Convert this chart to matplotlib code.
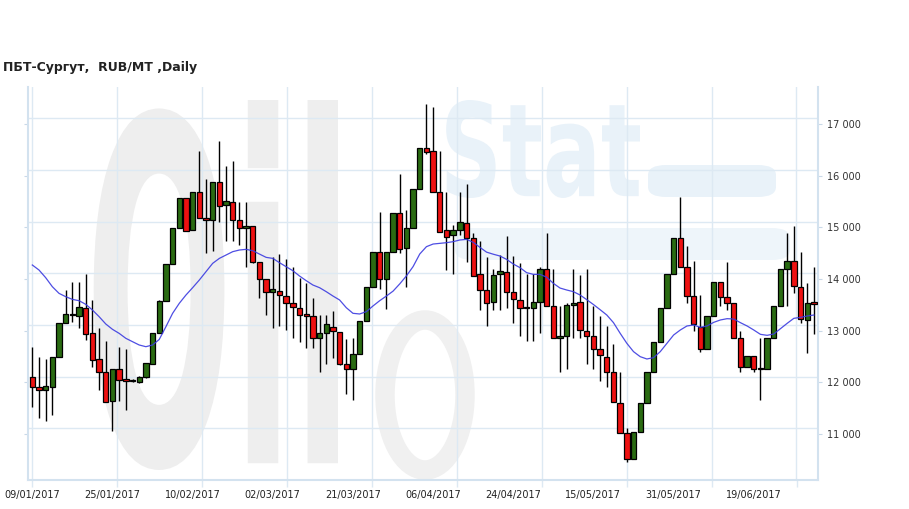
import numpy as np
import matplotlib.pyplot as plt
from matplotlib.patches import PathPatch, FancyBboxPatch, Ellipse
from matplotlib.textpath import TextPath
from matplotlib.font_manager import FontProperties
from matplotlib.path import Path

# -----------------------------
# Data, RUB/MT
# -----------------------------
opens = [11987, 11800, 11742, 11800, 12387, 13032, 13190, 13180, 13322, 12838,
         12335, 12083, 11535, 12148, 11948, 11942, 11890, 11987, 12245, 12838,
         13470, 14173, 14870, 15463, 14838, 15567, 15063, 15031, 15760, 15322,
         15373, 15031, 14870, 14922, 14225, 13883, 13631, 13664, 13568, 13432,
         13322, 13206, 13180, 12755, 12839, 12968, 12871, 12245, 12142, 12432,
         13084, 13729, 14419, 13884, 14419, 15174, 14484, 14870, 15625, 16419,
         16367, 15567, 14838, 14741, 14838, 14967, 14677, 13980, 13677, 13439,
         13980, 14019, 13632, 13484, 13342, 13322, 13439, 14077, 13374, 12742,
         12780, 13385, 13439, 12884, 12787, 12529, 12387, 12084, 11484, 10903,
         10400, 10935, 11484, 12084, 12677, 13322, 13980, 14677, 14129, 13568,
         12968, 12529, 13181, 13826, 13535, 13432, 12742, 12181, 12400, 12161,
         12142, 12742, 13374, 14077, 14238, 13729, 13097, 13439]
highs = [12580, 12387, 12342, 12387, 13032, 13677, 13825, 13825, 13980, 13483,
         12935, 12690, 12148, 12580, 12535, 11960, 12020, 12270, 12838, 13483,
         14173, 14870, 15463, 15463, 15567, 16367, 15818, 15760, 16560, 16076,
         16173, 15386, 15386, 14922, 14225, 13883, 14322, 14367, 14271, 14129,
         13903, 13819, 13529, 13193, 13193, 13277, 12871, 12729, 12742, 13084,
         13729, 14419, 15180, 14419, 15174, 15922, 15226, 15625, 16419, 17270,
         17225, 16367, 15580, 14935, 15580, 15722, 14774, 14626, 14322, 14077,
         14355, 14722, 14335, 14193, 13980, 13980, 14129, 14780, 14077, 13374,
         13432, 14077, 13975, 14077, 13370, 13170, 12987, 12632, 12084, 11000,
         10935, 11484, 12084, 12677, 13322, 13980, 14677, 15480, 14529, 14238,
         13581, 13181, 13826, 13826, 14226, 13432, 12884, 12400, 12400, 12742,
         12742, 13374, 14077, 14774, 14920, 14420, 13820, 14129]
lows = [11406, 11193, 11148, 11258, 12387, 13032, 13064, 12935, 12709, 12193,
        11742, 11500, 10955, 11535, 11354, 11900, 11870, 11980, 12245, 12838,
        13470, 14173, 14870, 14818, 14838, 15063, 14386, 14431, 14986, 14625,
        14625, 14547, 14128, 14193, 13528, 13193, 12935, 12986, 12903, 12742,
        12677, 12548, 12548, 12097, 12239, 12355, 12226, 11658, 11548, 12432,
        13084, 13729, 13690, 13303, 14419, 14400, 13742, 14870, 15625, 16300,
        15567, 14806, 14064, 13987, 14750, 14225, 13955, 13290, 12981, 13290,
        13290, 13335, 13045, 12787, 12697, 12697, 12839, 13374, 12742, 12090,
        12142, 12742, 12742, 12242, 12145, 11920, 11793, 11503, 10903, 10355,
        10400, 10935, 11484, 12084, 12677, 13322, 13980, 14129, 13432, 12884,
        12484, 12529, 13181, 13368, 13290, 12742, 12084, 12181, 12097, 11548,
        12142, 12742, 13374, 13374, 13620, 13040, 12450, 12820]
closes = [11800, 11742, 11819, 12387, 13032, 13206, 13206, 13341, 12819, 12322,
          12083, 11516, 12148, 11935, 11910, 11910, 12000, 12258, 12838, 13470,
          14173, 14870, 15463, 14818, 15567, 15063, 15025, 15760, 15309, 15399,
          15031, 14870, 14922, 14225, 13883, 13644, 13689, 13580, 13419, 13342,
          13193, 13180, 12755, 12839, 13013, 12884, 12245, 12142, 12432, 13084,
          13729, 14419, 13884, 14419, 15174, 14464, 14883, 15625, 16419, 16341,
          15567, 14806, 14709, 14838, 14987, 14677, 13955, 13677, 13419, 13968,
          14045, 13632, 13497, 13335, 13322, 13439, 14077, 13374, 12742, 12780,
          13380, 13419, 12903, 12794, 12529, 12410, 12097, 11503, 10903, 10400,
          10935, 11484, 12084, 12677, 13322, 13980, 14677, 14129, 13568, 13013,
          12529, 13181, 13826, 13535, 13419, 12742, 12181, 12400, 12142, 12142,
          12742, 13374, 14077, 14238, 13750, 13109, 13419, 13406]
moving_avg = [14161, 14064, 13916, 13741, 13612, 13548, 13496, 13470, 13400, 13290,
              13161, 13019, 12916, 12838, 12742, 12677, 12613, 12580, 12613, 12720,
              12967, 13225, 13419, 13580, 13722, 13870, 14032, 14193, 14289, 14354,
              14419, 14451, 14464, 14438, 14373, 14309, 14289, 14206, 14128, 14051,
              13948, 13858, 13774, 13722, 13645, 13561, 13484, 13335, 13226, 13213,
              13258, 13368, 13470, 13560, 13655, 13795, 13950, 14130, 14374, 14516,
              14567, 14580, 14593, 14613, 14645, 14657, 14600, 14503, 14410, 14370,
              14335, 14270, 14180, 14110, 14013, 13980, 13980, 13925, 13806, 13715,
              13677, 13645, 13580, 13490, 13396, 13296, 13193, 13045, 12839, 12645,
              12484, 12387, 12342, 12368, 12484, 12645, 12806, 12903, 12981, 13000,
              12955, 12981, 13051, 13097, 13122, 13116, 13045, 12981, 12903, 12819,
              12800, 12826, 12929, 13032, 13129, 13148, 13174, 13193]

date_labels = ["09/01/2017", "25/01/2017", "10/02/2017", "02/03/2017", "21/03/2017",
               "06/04/2017", "24/04/2017", "15/05/2017", "31/05/2017", "19/06/2017"]
price_levels = [11000, 12000, 13000, 14000, 15000, 16000, 17000]

o = np.array(opens)
h = np.array(highs)
l = np.array(lows)
c = np.array(closes)
x = np.arange(len(o))

# -----------------------------
# Figure
# -----------------------------
W, H = 909, 509
fig = plt.figure(figsize=(W / 100, H / 100), dpi=100)
ax = fig.add_axes([27.7 / W, 1 - 480 / H, (818.3 - 27.7) / W, (480 - 87) / H])
ax.set_facecolor("none")

grid_col = "#dde9f3"

# watermark (OilStat logo), boxes in pixels -> figure fraction
def logo_text(s, box, color):
    tp = TextPath((0, 0), s, size=1, prop=FontProperties(family="DejaVu Sans", weight="bold"))
    v = tp.vertices.copy()
    x0, y0 = v.min(axis=0)
    x1, y1 = v.max(axis=0)
    left, top, right, bottom = box
    v[:, 0] = (left + (v[:, 0] - x0) / (x1 - x0) * (right - left)) / W
    v[:, 1] = 1 - (bottom - (v[:, 1] - y0) / (y1 - y0) * (bottom - top)) / H
    fig.add_artist(PathPatch(Path(v, tp.codes), facecolor=color, edgecolor="none",
                             transform=fig.transFigure, zorder=-1))

logo_text("Oil", (85, 100, 338, 470), "#eeeeee")
logo_text("Stat", (440, 100, 640, 198), "#e9f2f9")
for (bx, by, bw, bh, col) in [(648, 165, 128, 32, "#e9f2f9"), (455, 228, 335, 32, "#eef5fa")]:
    fig.add_artist(FancyBboxPatch((bx / W, 1 - (by + bh) / H), bw / W, bh / H,
                                  boxstyle="round,pad=0,rounding_size=0.02",
                                  facecolor=col, edgecolor="none",
                                  transform=fig.transFigure, zorder=-1))
fig.add_artist(Ellipse((425 / W, 1 - 395 / H), 80 / W, 150 / H, facecolor="none",
                       edgecolor="#f0f0f0", lw=14, transform=fig.transFigure, zorder=-1))

# grid
for lev in price_levels:
    ax.axhline(lev, color=grid_col, lw=1, zorder=0)
grid_x = np.arange(10) * 12.71
for gx in grid_x:
    ax.axvline(gx, color=grid_col, lw=1, zorder=0)

# -----------------------------
# Candles
# -----------------------------
up = c >= o
colors = np.where(up, "#2a6b12", "#ee1111")
ax.vlines(x, l, h, color="black", lw=1, zorder=2)
body = np.maximum(np.abs(c - o), 28)
ax.bar(x, body, bottom=np.minimum(o, c), width=0.8, color=colors,
       edgecolor="black", linewidth=0.9, zorder=3)

# moving average
ax.plot(x, moving_avg, color="#3b3be0", lw=0.9, alpha=0.9, zorder=4)

# -----------------------------
# Axes
# -----------------------------
ax.set_xlim(-0.69, 117.66)
ax.set_ylim(10000, 17606)

ax.set_xticks(np.arange(0, len(o), 12)[:len(date_labels)])
ax.set_xticklabels(date_labels)
ax.set_xticks(grid_x + 0.01, minor=True)
ax.tick_params(axis="x", which="major", length=0, pad=7, labelsize=7, labelcolor="#222222")
ax.tick_params(axis="x", which="minor", length=5, color=grid_col, width=1)

ax.set_yticks([v - 110 for v in price_levels])
ax.set_yticklabels([f"{v // 1000} 000" for v in price_levels])
ax.tick_params(axis="y", left=True, right=True, labelleft=False, labelright=True,
               length=3, color="#c9d9e8", pad=3, labelsize=7, labelcolor="#333333")

ax.spines["top"].set_visible(False)
for s in ["left", "bottom", "right"]:
    ax.spines[s].set_color("#d3e2ef")
    ax.spines[s].set_linewidth(1.5)

fig.text(3 / W, 1 - 68 / H, "ПБТ-Сургут,  RUB/MT ,Daily", fontsize=9,
         fontweight="bold", color="#222222", va="center", ha="left")

fig.savefig("out.png", dpi=100)
